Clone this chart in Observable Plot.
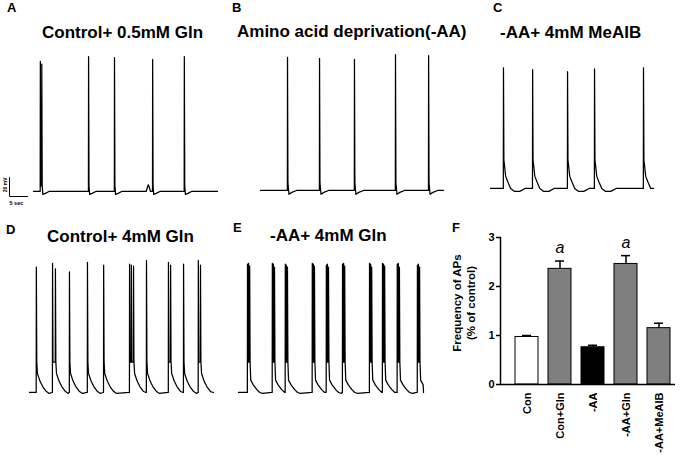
<!DOCTYPE html>
<html><head><meta charset="utf-8">
<script src="https://cdn.jsdelivr.net/npm/d3@7"></script>
<script src="https://cdn.jsdelivr.net/npm/@observablehq/plot@0.6"></script>
<style>
body{margin:0;background:#fff;}
#fig{position:relative;width:685px;height:456px;overflow:hidden;background:#fff;font-family:"Liberation Sans",Arial,sans-serif;color:#000;}
.lbl{position:absolute;font-weight:bold;font-size:13px;line-height:13px;white-space:nowrap;}
.ttl{position:absolute;font-weight:bold;font-size:17px;line-height:17px;white-space:nowrap;}
.ylab{position:absolute;font-weight:bold;font-size:11.5px;line-height:14px;width:130px;text-align:center;transform:rotate(-90deg);white-space:nowrap;}
</style></head><body><div id="fig"></div>
<script>
// ---------- data ----------
// spike times (s) and peak potentials (mV) read from each recording
const aTimes = [1.9, 2.3, 15.3, 22.5, 33.1, 41.9];
const aPeaks = [77, 74, 82, 81, 79, 82];
const aBumpTimes = [31.9];
const aBumpAmps = [7];
const aEnd = 51.1;

const bTimes = [7.5, 16.4, 26.1, 37.5, 46.7];
const bPeaks = [80, 79, 78, 83, 82];
const bEnd = 50.8;

const cTimes = [3.6, 11.7, 21.4, 28.9, 42.5];
const cPeaks = [67, 65, 63, 66, 67];
const cEnd = 45.3;

const dTimes = [1.9, 6.4, 7.2, 11.1, 16.1, 20.6, 27.8, 28.3, 28.9, 32.5, 38.6, 39.2, 42.8, 46.9, 47.5];
const dPeaks = [72, 76, 70, 67, 77, 74, 75, 74, 73, 79, 77, 74, 75, 79, 74];
const dEnd = 51.1;

const eTimes = [2.5, 2.8, 3.1, 9.4, 9.7, 10.0, 13.0, 13.3, 13.6, 20.5, 20.8, 21.1, 24.4, 24.7, 25.0,
                28.9, 29.2, 29.5, 36.4, 36.7, 37.0, 40.0, 40.3, 40.6, 44.1, 44.4, 44.7, 49.7, 50.0, 50.3];
const ePeaks = [75, 76, 73, 76, 75, 72, 75, 74, 72, 76, 75, 73, 74, 75, 72,
                75, 76, 73, 76, 75, 72, 76, 75, 73, 75, 76, 72, 74, 75, 72];
const eEnd = 51.4;

const restingMV = -60;
const scaleBarT = [0, 0, 5];     // 5 sec
const scaleBarV = [20, 0, 0];    // 20 mV

// bar chart (panel F)
const categories = ["Con", "Con+Gln", "-AA", "-AA+Gln", "-AA+MeAIB"];
const means = [0.97, 2.36, 0.76, 2.46, 1.15];
const sems = [0.03, 0.16, 0.04, 0.17, 0.10];
const sigLabels = ["", "a", "", "a", ""];
const yTicks = [0, 1, 2, 3];
const barFills = ["#ffffff", "#7f7f7f", "#000000", "#7f7f7f", "#7f7f7f"];

// ---------- layout ----------
const fig = document.getElementById("fig");
const PX_PER_S = 3.6, PX_PER_MV = 0.95;
const VDOM = [-80, 100];

const shapes = {
  A: {plateau: 6, decay: [[0.3, -3], [1.0, -2], [2.0, 0]]},
  B: {plateau: 8, decay: [[0.4, -4], [1.2, -2], [2.5, 0]]},
  C: {plateau: 30, decay: [[0.3, 24], [0.6, 13], [1.2, 7], [2.0, 0], [3.0, -3], [4.5, -3], [6.0, 0]]},
  D: {plateau: 32, decay: [[0.3, 20], [1.0, 12], [1.8, 6], [2.8, 1], [3.6, -1]]},
  E: {plateau: 32, decay: [[0.3, 13], [1.0, 8], [2.0, 3], [2.8, 0], [3.6, -1]]}
};

function buildTrace(times, peaks, end, shape, bumpT = [], bumpA = []) {
  const base = restingMV;
  const pts = [[0, base]];
  const bursts = [];
  times.forEach((t, i) => {
    const last = bursts[bursts.length - 1];
    if (last && t - last[last.length - 1][0] < 1.2) last.push([t, peaks[i]]);
    else bursts.push([[t, peaks[i]]]);
  });
  bursts.forEach((b, bi) => {
    const next = bi + 1 < bursts.length ? bursts[bi + 1][0][0] - 0.2 : end;
    pts.push([b[0][0] - 0.15, base]);
    b.forEach(([t, p], k) => {
      pts.push([t - 0.04, k ? base + shape.plateau : base]);
      pts.push([t, p]);
      pts.push([t + 0.12, base + shape.plateau]);
    });
    const tl = b[b.length - 1][0];
    shape.decay.forEach(([dt, dv]) => { if (tl + dt < next) pts.push([tl + dt, base + dv]); });
  });
  bumpT.forEach((t, i) => {
    pts.push([t - 0.6, base], [t - 0.2, base + bumpA[i] - 2], [t, base + bumpA[i]], [t + 0.3, base + bumpA[i] - 3], [t + 0.6, base]);
  });
  pts.push([end, base]);
  pts.sort((a, b) => a[0] - b[0]);
  return pts;
}

function tracePlot(pts, end, left, baselinePx) {
  const h = (VDOM[1] - VDOM[0]) * PX_PER_MV;
  const top = baselinePx - (VDOM[1] - restingMV) * PX_PER_MV;
  const w = end * PX_PER_S;
  const svg = Plot.plot({
    width: w, height: h, margin: 0,
    style: `position:absolute;left:${left}px;top:${top}px;background:none;overflow:visible;`,
    x: {domain: [0, end], axis: null},
    y: {domain: VDOM, axis: null},
    marks: [Plot.line(pts, {x: d => d[0], y: d => d[1], stroke: "#000", strokeWidth: 1.25, strokeLinejoin: "round"})]
  });
  fig.appendChild(svg);
}

tracePlot(buildTrace(aTimes, aPeaks, aEnd, shapes.A, aBumpTimes, aBumpAmps), aEnd, 33, 191);
tracePlot(buildTrace(bTimes, bPeaks, bEnd, shapes.B), bEnd, 260, 190);
tracePlot(buildTrace(cTimes, cPeaks, cEnd, shapes.C), cEnd, 490, 188);
tracePlot(buildTrace(dTimes, dPeaks, dEnd, shapes.D), dEnd, 29, 392);
tracePlot(buildTrace(eTimes, ePeaks, eEnd, shapes.E), eEnd, 238, 392);

// scale bar
fig.appendChild(Plot.plot({
  width: 33, height: 40, marginLeft: 9, marginTop: 7, marginRight: 6, marginBottom: 14,
  style: "position:absolute;left:0px;top:170px;background:none;overflow:visible;font-family:'Liberation Sans',Arial,sans-serif;",
  x: {domain: [0, 5], axis: null},
  y: {domain: [0, 20], axis: null},
  marks: [
    Plot.line(scaleBarT.map((t, i) => [t, scaleBarV[i]]), {x: d => d[0], y: d => d[1], stroke: "#000", strokeWidth: 1}),
    Plot.text(["20 mV"], {x: 0, y: 20, rotate: -90, textAnchor: "end", dx: -4.5, fontSize: 5, fontWeight: "bold"}),
    Plot.text(["5 sec"], {x: 0, y: 0, textAnchor: "start", dx: 0, dy: 7, fontSize: 5.5, fontWeight: "bold"})
  ]
}));

// bar chart
const rows = categories.map((c, i) => ({cat: c, mean: means[i], sem: sems[i], top: means[i] + sems[i], sig: sigLabels[i], fill: barFills[i]}));
fig.appendChild(Plot.plot({
  width: 245, height: 231, marginLeft: 60, marginTop: 12, marginBottom: 72, marginRight: 10,
  style: "position:absolute;left:440px;top:225px;background:none;overflow:visible;font-family:'Liberation Sans',Arial,sans-serif;font-weight:bold;font-size:11px;color:#000;",
  x: {domain: categories, range: [73, 233], paddingInner: 0.29, paddingOuter: 0, label: null},
  y: {domain: [0, 3], label: null},
  marks: [
    Plot.ruleX(rows, {x: "cat", y1: "mean", y2: "top", stroke: "#000", strokeWidth: 1.5}),
    Plot.tickY(rows, {x: "cat", y: "top", stroke: "#000", strokeWidth: 1.5, insetLeft: 7, insetRight: 7}),
    Plot.barY(rows, {x: "cat", y: "mean", fill: "fill", stroke: "#000", strokeWidth: 1}),
    Plot.text(rows, {x: "cat", y: "top", text: "sig", dy: -13, fontSize: 16, fontStyle: "italic", fontWeight: "normal"}),
    Plot.ruleY([0], {stroke: "#000", strokeWidth: 1.5}),
    Plot.frame({anchor: "left", stroke: "#000", strokeWidth: 1.5}),
    Plot.axisY({ticks: yTicks, tickSize: 4, tickPadding: 2, tickFormat: d3.format("d"), label: null, fontSize: 11, fontWeight: "bold", strokeWidth: 1.5}),
    Plot.axisX({tickRotate: -90, tickSize: 0, tickPadding: 8, label: null, fontSize: 11, fontWeight: "bold"})
  ]
}));

// y-axis title of panel F
const yl = document.createElement("div");
yl.className = "ylab";
yl.innerHTML = "Frequency of APs<br>(% of control)";
yl.style.left = (464 - 65) + "px";
yl.style.top = (303 - 14) + "px";
fig.appendChild(yl);

// panel letters and titles
const labels = [
  ["A", 7, 1], ["B", 232, 1], ["C", 493, 1], ["D", 6, 223], ["E", 233, 221], ["F", 452, 221]
];
labels.forEach(([t, x, y]) => {
  const d = document.createElement("div"); d.className = "lbl"; d.textContent = t;
  d.style.left = x + "px"; d.style.top = y + "px"; fig.appendChild(d);
});
const titles = [
  ["Control+ 0.5mM Gln", 42, 24], ["Amino acid deprivation(-AA)", 237, 23], ["-AA+ 4mM MeAIB", 500, 24],
  ["Control+ 4mM Gln", 47, 228], ["-AA+ 4mM Gln", 270, 227]
];
titles.forEach(([t, x, y]) => {
  const d = document.createElement("div"); d.className = "ttl"; d.textContent = t;
  d.style.left = x + "px"; d.style.top = y + "px"; fig.appendChild(d);
});
</script></body></html>
